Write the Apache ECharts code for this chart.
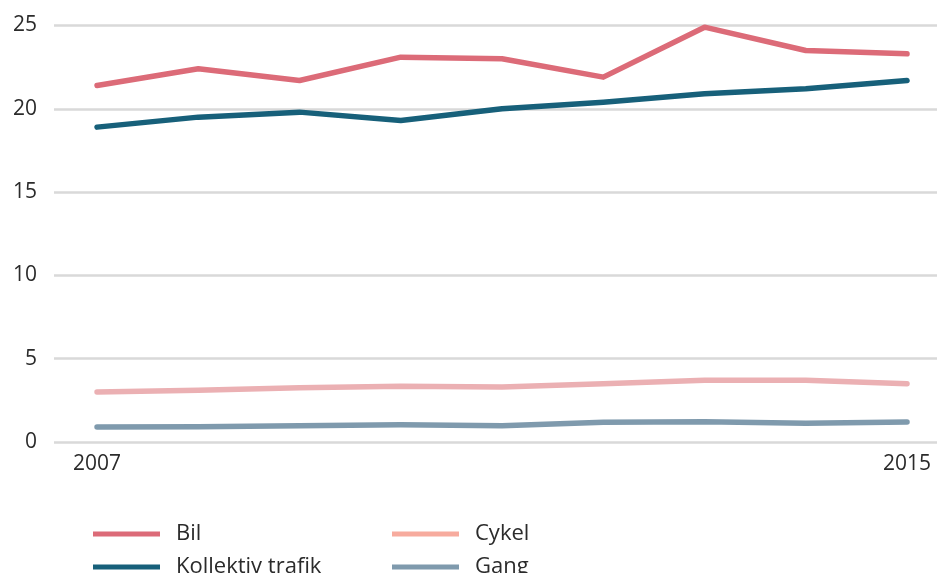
<!DOCTYPE html>
<html>
<head>
<meta charset="utf-8">
<script src="https://cdn.jsdelivr.net/npm/echarts@6/dist/echarts.min.js"></script>
<style>
  html, body { margin: 0; padding: 0; background: #fff; }
  #chart { width: 937px; height: 573px; }
</style>
</head>
<body>
<div id="chart"></div>
<script>
// år
var years = [2007, 2008, 2009, 2010, 2011, 2012, 2013, 2014, 2015];
var yearLabels = [2007, 2015];
var yTicks = [0, 5, 10, 15, 20, 25];

// serier
var bil = [21.4, 22.4, 21.7, 23.1, 23.0, 21.9, 24.9, 23.5, 23.3];
var kollektiv = [18.9, 19.5, 19.8, 19.3, 20.0, 20.4, 20.9, 21.2, 21.7];
var cykel = [3.0, 3.1, 3.25, 3.35, 3.3, 3.5, 3.7, 3.7, 3.5];
var gang = [0.9, 0.92, 0.98, 1.04, 0.98, 1.18, 1.22, 1.12, 1.2];

var font = 'Open Sans';
var textColor = '#2b2b2b';

function pairs(vals) {
    return years.map(function (y, i) { return [y, vals[i]]; });
}

function mkLine(name, vals, color) {
    return {
        name: name,
        type: 'line',
        data: pairs(vals),
        symbol: 'none',
        lineStyle: { color: color, width: 5.5, cap: 'round', join: 'round' },
        itemStyle: { color: color }
    };
}

// en legend per post, så de står i to kolonner
function mkLegend(item, left, top) {
    return {
        left: left,
        top: top,
        icon: 'rect',
        itemWidth: 67,
        itemHeight: 5,
        data: [item],
        textStyle: { fontFamily: font, fontSize: 22, color: textColor, padding: [0, 0, 0, 11] }
    };
}

var chart = echarts.init(document.getElementById('chart'));

var option = {
    animation: false,
    backgroundColor: '#fff',
    grid: { left: 54, right: 0, top: 25.5, bottom: 131, containLabel: false },
    xAxis: {
        type: 'value',
        min: 2006.575,
        max: 2015.296,
        axisLine: { show: false },
        axisTick: { show: false },
        splitLine: { show: false },
        axisLabel: {
            customValues: yearLabels,
            fontFamily: font,
            fontSize: 21,
            color: textColor,
            margin: 12,
            formatter: function (v) { return String(v); }
        }
    },
    yAxis: {
        type: 'value',
        min: 0,
        max: 25,
        interval: 5,
        axisLine: { show: false },
        axisTick: { show: false },
        splitLine: { lineStyle: { color: '#d9d9d9', width: 2.5 } },
        axisLabel: {
            fontFamily: font,
            fontSize: 21,
            color: textColor,
            margin: 17,
            formatter: function (v) { return yTicks.indexOf(v) >= 0 ? String(v) : ''; }
        }
    },
    legend: [
        mkLegend('Bil', 88, 518),
        mkLegend('Kollektiv trafik', 88, 551),
        mkLegend({ name: 'Cykel', itemStyle: { color: '#f7ab9e' } }, 387, 518),
        mkLegend('Gang', 387, 551)
    ],
    series: [
        mkLine('Bil', bil, '#dc6b78'),
        mkLine('Kollektiv trafik', kollektiv, '#17607a'),
        mkLine('Cykel', cykel, '#ebb0b3'),
        mkLine('Gang', gang, '#7f9aad')
    ]
};

chart.setOption(option);
</script>
</body>
</html>
